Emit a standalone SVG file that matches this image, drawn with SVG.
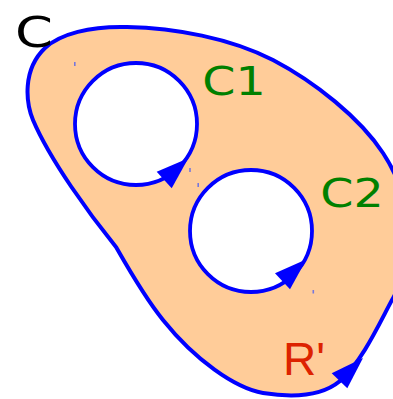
<svg xmlns="http://www.w3.org/2000/svg" width="393" height="399" viewBox="0 0 393 399">
<style>
.edge{stroke:#0000FF;stroke-width:4;stroke-linejoin:round}
.hole{fill:#FFFFFF;stroke:#0000FF;stroke-width:3.8}
.head{fill:#0000FF}
.lbl{font-family:"DejaVu Sans",sans-serif;fill:#008000}
.dot{fill:#7777DD}
</style>
<g id="region">
<path class="edge" fill="#FFCC99" d="M 116,247 C 90,215 50,160 33,120 C 26,103 22,70 45,48 C 60,34 90,26 127,27 C 175,28 230,38 273,60 C 315,82 360,118 383,153 C 420,210 412,265 392,300 C 380,322 362,362 340,381 C 322,396 295,398 263,393 C 235,388 195,360 163,320 C 145,298 128,268 116,247 Z"/>
<polygon class="head" points="331.7,373.3 347.3,388.3 363,358"/>
<text x="15" y="46.5" font-size="43" textLength="38" lengthAdjust="spacingAndGlyphs" font-family="DejaVu Sans, sans-serif" fill="#000000">C</text>
<text x="283" y="375" font-size="46" font-family="Liberation Sans, Arial, sans-serif" fill="#DD2200">R'</text>
</g>
<g id="C1">
<circle class="hole" cx="136" cy="124" r="61"/>
<polygon class="head" points="156.7,171.7 171.7,188.3 188.3,158.3"/>
<text class="lbl" x="202.3" y="95" font-size="39" textLength="63.5" lengthAdjust="spacingAndGlyphs">C1</text>
</g>
<g id="C2">
<circle class="hole" cx="251" cy="231" r="61"/>
<polygon class="head" points="275,273.3 290,289.3 306.5,259.3"/>
<text class="lbl" x="320.3" y="207" font-size="39" textLength="63.5" lengthAdjust="spacingAndGlyphs">C2</text>
</g>
<g id="marks">
<rect class="dot" x="74" y="62" width="1.6" height="4"/>
<rect class="dot" x="189.2" y="168" width="1.6" height="4"/>
<rect class="dot" x="197.4" y="183" width="1.6" height="4"/>
<rect class="dot" x="312.5" y="290" width="1.6" height="3.5"/>
</g>
</svg>
